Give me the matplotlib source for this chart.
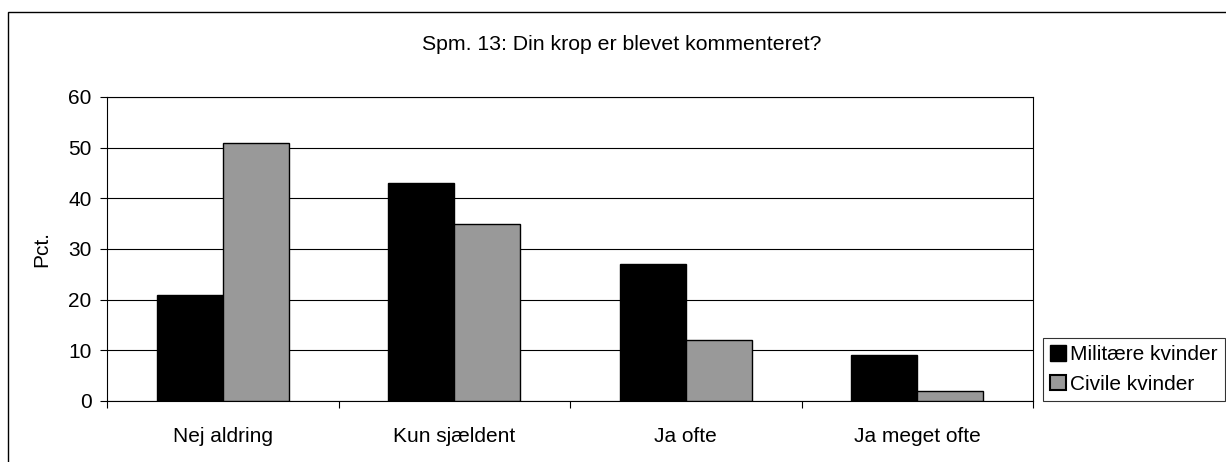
import numpy as np
import matplotlib
matplotlib.use("Agg")
import matplotlib.pyplot as plt
from matplotlib.patches import Rectangle, Patch

plt.rcParams['font.family'] = ['Liberation Sans', 'DejaVu Sans']

categories = ["Nej aldring", "Kun sjældent", "Ja ofte", "Ja meget ofte"]
militaere = [21, 43, 27, 9]
civile = [51, 35, 12, 2]
series_names = ["Militære kvinder", "Civile kvinder"]
title = "Spm. 13: Din krop er blevet kommenteret?"

W, H = 1226, 462
fig = plt.figure(figsize=(W / 100, H / 100), dpi=100)

# outer chart frame (runs off the right and bottom edge)
fig.patches.append(Rectangle((8 / W, -0.1), 1.1, 1 - 12 / H + 0.1,
                             transform=fig.transFigure, fill=False,
                             edgecolor="black", lw=1.0))

ax = fig.add_axes([107 / W, 1 - 401 / H, (1033 - 107) / W, (401 - 97) / H])

x = np.arange(len(categories))
bw = 2 / 7  # gap width 150%
ax.bar(x - bw / 2, militaere, bw, color="black", edgecolor="black", lw=1, zorder=3)
ax.bar(x + bw / 2, civile, bw, color="#999999", edgecolor="black", lw=1, zorder=3)

ax.set_xlim(-0.5, len(categories) - 0.5)
ax.set_ylim(0, 60)
ax.set_yticks(range(0, 61, 10))
ax.yaxis.grid(True, color="black", lw=0.8, zorder=0)
ax.set_axisbelow(True)

ax.set_xticks(x)
ax.set_xticklabels(categories)
ax.set_xticks(np.arange(-0.5, len(categories)), minor=True)
ax.tick_params(axis="x", which="major", length=0, pad=19, labelsize=15)
ax.tick_params(axis="x", which="minor", length=5, width=0.8, direction="out")
ax.tick_params(axis="y", length=5, width=0.8, pad=6, labelsize=15)

for s in ax.spines.values():
    s.set_color("black")
    s.set_linewidth(0.8)

ax.set_ylabel("Pct.", fontsize=15, labelpad=12)

fig.text(622 / W, 1 - 44 / H, title, ha="center", va="center", fontsize=15.3)

handles = [Patch(facecolor="black", edgecolor="black"),
           Patch(facecolor="#999999", edgecolor="black", lw=1.5)]
leg = fig.legend(handles, series_names, loc="upper left",
                 bbox_to_anchor=(1043 / W, 1 - 338 / H), bbox_transform=fig.transFigure,
                 borderaxespad=0, fontsize=15, frameon=True, fancybox=False,
                 handlelength=0.75, handleheight=0.75, handletextpad=0.2,
                 labelspacing=0.5, borderpad=0.35)
leg.get_frame().set_edgecolor("black")
leg.get_frame().set_linewidth(0.8)

fig.savefig("out.png", dpi=100)
